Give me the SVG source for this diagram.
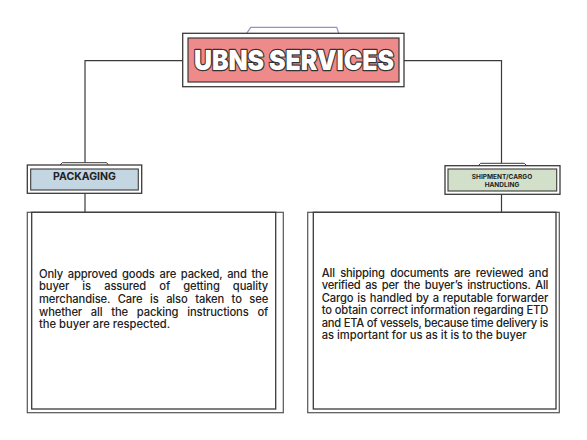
<svg xmlns="http://www.w3.org/2000/svg" width="587" height="440" viewBox="0 0 587 440">
<style>
.conn{fill:none;stroke:#3a3a3a;stroke-width:1.2}
.frame{fill:#ffffff;stroke:#3a3a3a;stroke-width:1.3}
.shadow{fill:#ffffff;stroke:#555555;stroke-width:1.2}
.tab{fill:#ffffff;stroke:#3a3a3a;stroke-width:1}
.body{font-family:Inter,"Liberation Sans",sans-serif;font-size:11.2px;font-weight:500;fill:#222222}
.lbl{font-family:Inter,"Liberation Sans",sans-serif;font-weight:700;fill:#222222;text-anchor:middle}
</style>
<rect width="587" height="440" fill="#ffffff"/>
<g id="connectors">
<polyline class="conn" points="183,60.7 85,60.7 85,165"/>
<polyline class="conn" points="404,60.7 501.5,60.7 501.5,165.5"/>
<line class="conn" x1="85" y1="193.3" x2="85" y2="212.5"/>
<line class="conn" x1="501.5" y1="194.3" x2="501.5" y2="212.5"/>
</g>
<g id="title">
<path d="M246.7,33.3 L250.7,27.3 L336.7,27.3 L338.7,33.3" fill="#ffffff" stroke="#9c8fc4" stroke-width="1.2"/>
<rect class="frame" x="182.7" y="33.3" width="221.3" height="53.4"/>
<rect x="188" y="38" width="211" height="44" fill="#ef8a8a" stroke="#3a3a3a" stroke-width="1.2"/>
<text x="294" y="70" text-anchor="middle" font-family="Inter,'Liberation Sans',sans-serif" font-weight="900" font-size="27" textLength="200" lengthAdjust="spacingAndGlyphs" fill="#ffffff" stroke="#333333" stroke-width="2.4" stroke-linejoin="round" paint-order="stroke">UBNS SERVICES</text>
</g>
<g id="packaging">
<path class="tab" d="M60,165 L62.3,162.7 L106.7,162.7 L108.3,165"/>
<rect class="frame" x="27.3" y="165" width="114.4" height="28.3"/>
<rect x="30.7" y="169" width="107.6" height="21" fill="#c3d6e2" stroke="#3a3a3a" stroke-width="1.1"/>
<text class="lbl" x="84.5" y="180" font-size="10.5">PACKAGING</text>
</g>
<g id="shipment">
<path class="tab" d="M478.3,165.7 L480.7,163.3 L524.3,163.3 L526.7,165.7"/>
<rect class="frame" x="445" y="165.7" width="115" height="28.6"/>
<rect x="448" y="169" width="108.7" height="22" fill="#d3e0c9" stroke="#3a3a3a" stroke-width="1.1"/>
<text class="lbl" x="502" y="179" font-size="6.5">SHIPMENT/CARGO</text>
<text class="lbl" x="502" y="187.3" font-size="6.5">HANDLING</text>
</g>
<g id="packaging-text">
<rect class="shadow" x="27.3" y="212.3" width="256" height="200.4"/>
<rect class="frame" x="31.7" y="212.3" width="244" height="196.7"/>
<text class="body">
<tspan x="39" y="277.5" word-spacing="1.8" textLength="229.3" lengthAdjust="spacing">Only approved goods are packed, and the</tspan>
<tspan x="39" y="290.2" word-spacing="10.3" textLength="229.3" lengthAdjust="spacing">buyer is assured of getting quality</tspan>
<tspan x="39" y="302.9" word-spacing="4.6" textLength="229.3" lengthAdjust="spacing">merchandise. Care is also taken to see</tspan>
<tspan x="39" y="315.6" word-spacing="6" textLength="229.3" lengthAdjust="spacing">whether all the packing instructions of</tspan>
<tspan x="39" y="328.3">the buyer are respected.</tspan>
</text>
</g>
<g id="shipment-text">
<rect class="shadow" x="307.7" y="212.3" width="251.6" height="200.4"/>
<rect class="frame" x="313.3" y="212.3" width="242.7" height="196.7"/>
<text class="body">
<tspan x="321.7" y="276.7" word-spacing="2.5" textLength="226.6" lengthAdjust="spacing">All shipping documents are reviewed and</tspan>
<tspan x="321.7" y="289.2" word-spacing="2" textLength="226.6" lengthAdjust="spacing">verified as per the buyer’s instructions. All</tspan>
<tspan x="321.7" y="301.7" word-spacing="1" textLength="226.6" lengthAdjust="spacing">Cargo is handled by a reputable forwarder</tspan>
<tspan x="321.7" y="314.2" textLength="226.6" lengthAdjust="spacing">to obtain correct information regarding ETD</tspan>
<tspan x="321.7" y="326.7" textLength="226.6" lengthAdjust="spacing">and ETA of vessels, because time delivery is</tspan>
<tspan x="321.7" y="339.2">as important for us as it is to the buyer</tspan>
</text>
</g>
</svg>
